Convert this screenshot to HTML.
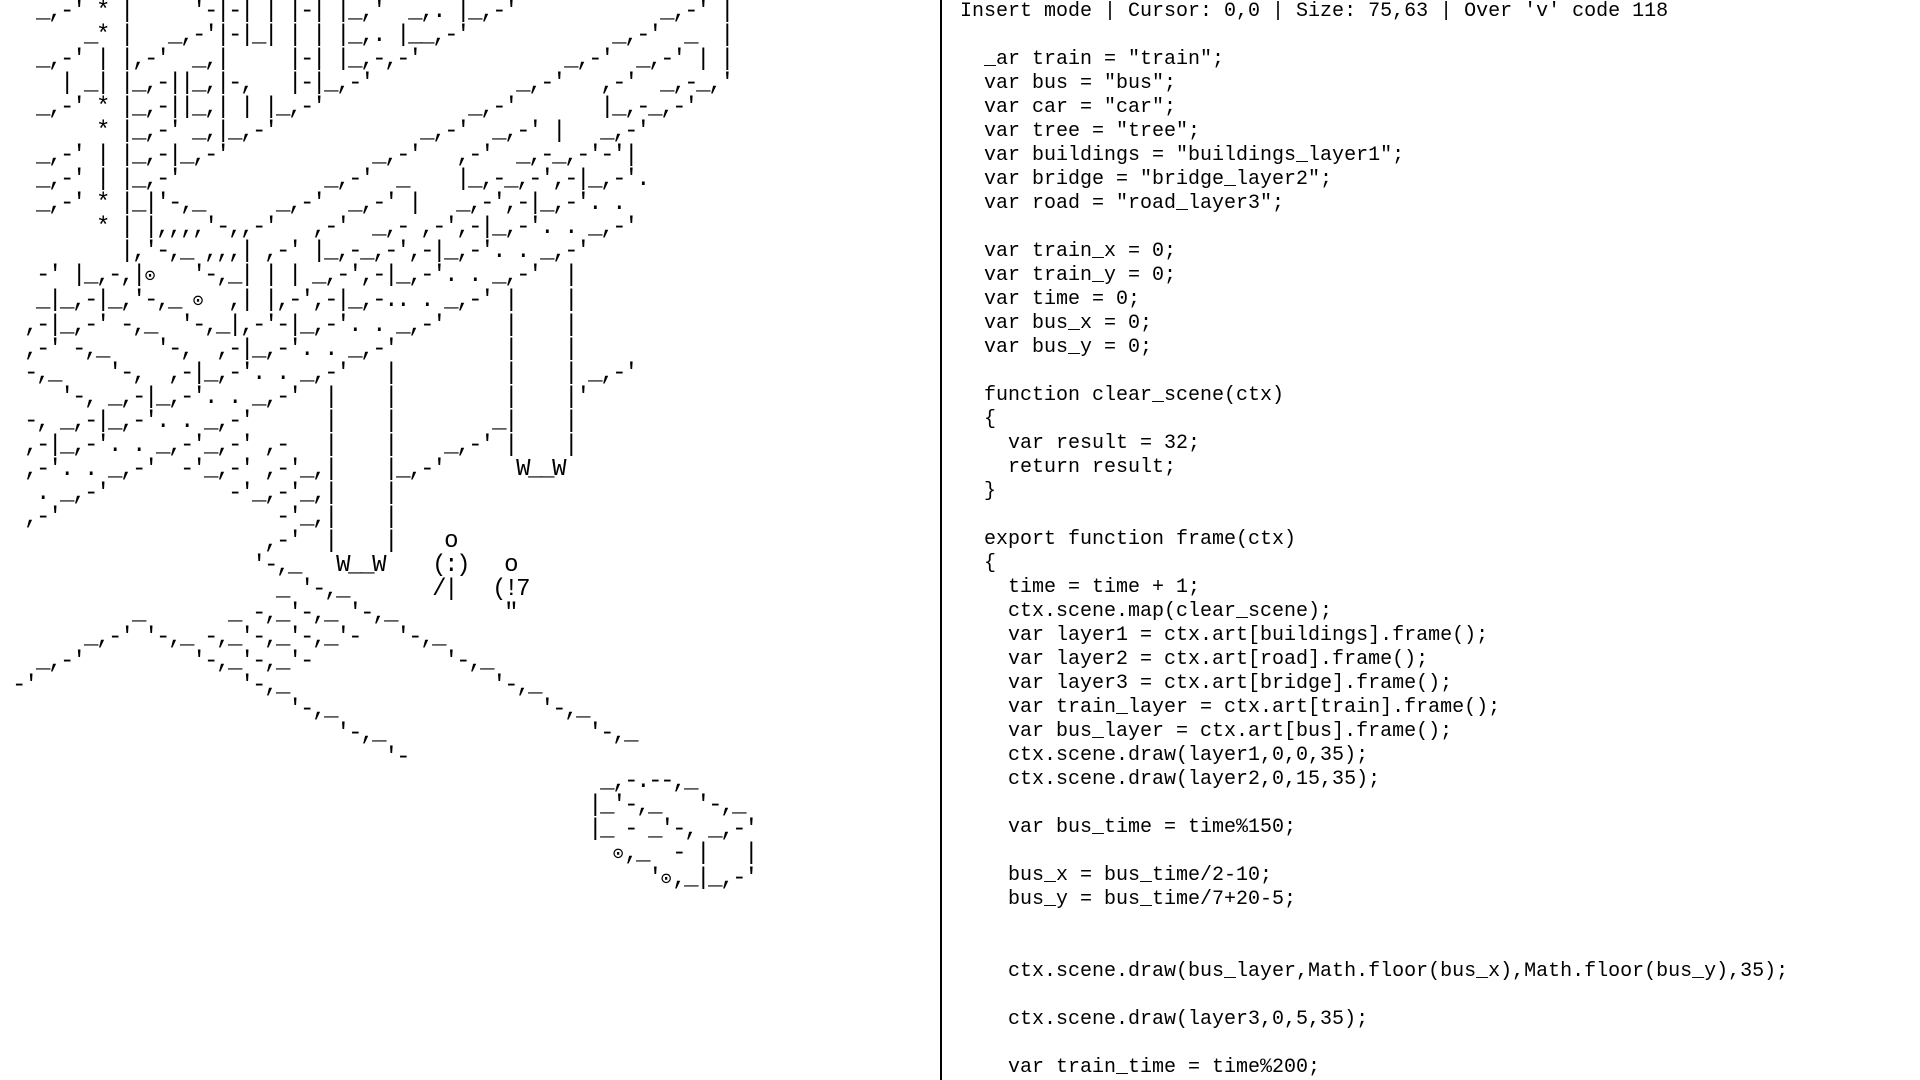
<!DOCTYPE html>
<html><head><meta charset="utf-8">
<style>
html,body{margin:0;padding:0;background:#fff;width:1920px;height:1080px;overflow:hidden;}
pre{margin:0;position:absolute;font-family:"Liberation Mono","DejaVu Sans Mono",monospace;font-size:20px;line-height:24px;color:#000;white-space:pre;}
#art{left:0;top:0;font-size:24px;letter-spacing:-2.4px;}
#code{left:960px;top:0;}
#div{position:absolute;left:940px;top:0;width:2px;height:1080px;background:#000;}
.o{display:inline-block;width:12px;text-align:center;overflow:visible;letter-spacing:0;font-size:18px;}
</style></head><body>
<pre id="art">   _,-' * |     '-|-| | |-| |_,'  _,. |_,-'            _,-' |
       _* |   _,-'|-|_| | | |_,. |__,-'            _,-'  _  |
   _,-' | |,-'  _,|     |-| |_,-,-'            _,-'  _,-' | |
     | _| |_,-||_,|-,   |-|_,-'            _,-'   ,-'  _,-_,'
   _,-' * |_,-||_,| | |_,-'            _,-'       |_,-_,-'
        * |_,-' _,|_,-'            _,-'  _,-' |   _,-'
   _,-' | |_,-|_,-'            _,-'   ,-'  _,-_,-'-'|
   _,-' | |_,-'            _,-'  _    |_,-_,-',-|_,-'.
   _,-' * |_|'-,_      _,-'  _,-' |   _,-',-|_,-'. .
        * | |,,,,'-,,-'   ,-'  _,- ,-',-|_,-'. . _,-'
          |,'-,_ ,,,| ,-' |_,-_,-',-|_,-'. . _,-'
   -' |_,-,|<span class="o">⊙</span>   '-,_| | | _,-',-|_,-'. . _,-'  |
   _|_,-|_,'-,_ <span class="o">⊙</span>  ,| |,-',-|_,-.. . _,-' |    |
  ,-|_,-' -,_  '-,_|,-'-|_,-'. . _,-'     |    |
  ,-' -,_    '-,  ,-|_,-'. . _,-'         |    |
  -,_    '-,  ,-|_,-'. . _,-'   |         |    | _,-'
     '-, _,-|_,-'. . _,-'  |    |         |    |'
  -, _,-|_,-'. . _,-'      |    |        _|    |
  ,-|_,-'. . _,-'_,-' ,-   |    |    _,-' |    |
  ,-'. . _,-'  -'_,-' ,-'_,|    |_,-'      W__W
   . _,-'          -'_,-'_,|    |
  ,-'                  -'_,|    |
                      ,-'  |    |    o
                     '-,_   W__W    (:)   o
                       _ '-,_       /|   (!7
           _       _ -,_'-,_ '-,_         "
       _,-' '-,_ -,_'-,_'-,_'-   '-,_
   _,-'         '-,_'-,_'-           '-,_
 -'                 '-,_                 '-,_
                        '-,_                 '-,_
                            '-,_                 '-,_
                                '-
                                                  _,-.--,_
                                                 |_'-,_   '-,_
                                                 |_ - _'-, _,-'
                                                   <span class="o">⊙</span>,_  - |   |
                                                      '<span class="o">⊙</span>,_|_,-'</pre>
<div id="div"></div>
<pre id="code">Insert mode | Cursor: 0,0 | Size: 75,63 | Over 'v' code 118

  _ar train = "train";
  var bus = "bus";
  var car = "car";
  var tree = "tree";
  var buildings = "buildings_layer1";
  var bridge = "bridge_layer2";
  var road = "road_layer3";

  var train_x = 0;
  var train_y = 0;
  var time = 0;
  var bus_x = 0;
  var bus_y = 0;

  function clear_scene(ctx)
  {
    var result = 32;
    return result;
  }

  export function frame(ctx)
  {
    time = time + 1;
    ctx.scene.map(clear_scene);
    var layer1 = ctx.art[buildings].frame();
    var layer2 = ctx.art[road].frame();
    var layer3 = ctx.art[bridge].frame();
    var train_layer = ctx.art[train].frame();
    var bus_layer = ctx.art[bus].frame();
    ctx.scene.draw(layer1,0,0,35);
    ctx.scene.draw(layer2,0,15,35);

    var bus_time = time%150;

    bus_x = bus_time/2-10;
    bus_y = bus_time/7+20-5;


    ctx.scene.draw(bus_layer,Math.floor(bus_x),Math.floor(bus_y),35);

    ctx.scene.draw(layer3,0,5,35);

    var train_time = time%200;</pre>
</body></html>
